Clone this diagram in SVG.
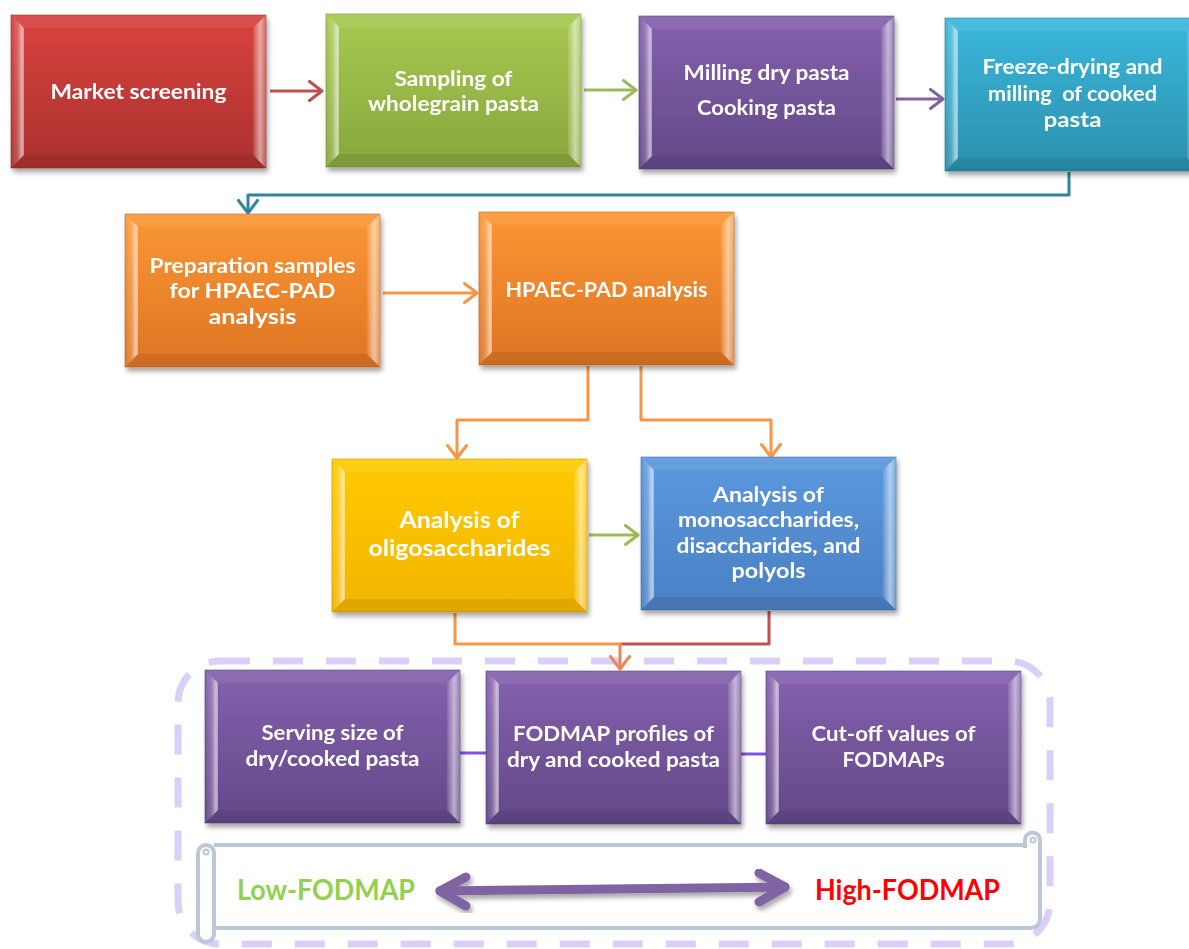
<svg xmlns="http://www.w3.org/2000/svg" xmlns:xlink="http://www.w3.org/1999/xlink" width="1189" height="949" viewBox="0 0 1189 949">
  <style>
    .t { font-family: Lato, "Liberation Sans", "DejaVu Sans", sans-serif; font-weight: 700; font-size: 21px; fill: #ffffff; text-anchor: middle; }
    .big { font-size: 23px; }
    .edge { stroke-width: 1; stroke-opacity: 0.55; }
    .legend { font-family: Lato, "Liberation Sans", "DejaVu Sans", sans-serif; font-weight: 700; font-size: 28px; }
  </style>
  <defs>
    <filter id="shadow" x="-10%" y="-10%" width="125%" height="130%">
      <feGaussianBlur in="SourceAlpha" stdDeviation="2.5"/>
      <feOffset dx="2" dy="4" result="off"/>
      <feComponentTransfer><feFuncA type="linear" slope="0.35"/></feComponentTransfer>
      <feMerge><feMergeNode/><feMergeNode in="SourceGraphic"/></feMerge>
    </filter>

    <!-- face fills -->
    <linearGradient id="gRed" x1="0" y1="0" x2="0" y2="1"><stop offset="0" stop-color="#D8423F"/><stop offset="1" stop-color="#AB312E"/></linearGradient>
    <linearGradient id="gGreen" x1="0" y1="0" x2="0" y2="1"><stop offset="0" stop-color="#A8C952"/><stop offset="1" stop-color="#87A63C"/></linearGradient>
    <linearGradient id="gPurple" x1="0" y1="0" x2="0" y2="1"><stop offset="0" stop-color="#8461AD"/><stop offset="1" stop-color="#634888"/></linearGradient>
    <linearGradient id="gCyan" x1="0" y1="0" x2="0" y2="1"><stop offset="0" stop-color="#3AB8DC"/><stop offset="1" stop-color="#2B8FAD"/></linearGradient>
    <linearGradient id="gOrange" x1="0" y1="0" x2="0" y2="1"><stop offset="0" stop-color="#FB9735"/><stop offset="1" stop-color="#DE7423"/></linearGradient>
    <linearGradient id="gGold" x1="0" y1="0" x2="0" y2="1"><stop offset="0" stop-color="#FFCA00"/><stop offset="1" stop-color="#F2B500"/></linearGradient>
    <linearGradient id="gBlue" x1="0" y1="0" x2="0" y2="1"><stop offset="0" stop-color="#5B98DE"/><stop offset="1" stop-color="#4B80C4"/></linearGradient>

    <!-- bevel lighting -->
    <linearGradient id="bevL" x1="0" y1="0" x2="1" y2="0">
      <stop offset="0" stop-color="#fff" stop-opacity="0.02"/>
      <stop offset="0.5" stop-color="#fff" stop-opacity="0.2"/>
      <stop offset="0.85" stop-color="#fff" stop-opacity="0.6"/>
      <stop offset="1" stop-color="#fff" stop-opacity="0.4"/>
    </linearGradient>
    <linearGradient id="bevR" x1="0" y1="0" x2="1" y2="0">
      <stop offset="0" stop-color="#fff" stop-opacity="0.1"/>
      <stop offset="0.55" stop-color="#fff" stop-opacity="0.55"/>
      <stop offset="1" stop-color="#fff" stop-opacity="0.2"/>
    </linearGradient>
    <g id="bevel">
      <polygon points="0,0 255,0 242,13 13,13" fill="#fff" fill-opacity="0.08"/>
      <polygon points="0,153 13,140 242,140 255,153" fill="#000" fill-opacity="0.08"/>
      <polygon points="0,0 13,13 13,140 0,153" fill="url(#bevL)"/>
      <polygon points="255,0 242,13 242,140 255,153" fill="url(#bevR)"/>
    </g>

    <!-- open chevron heads -->
    <marker id="aRed" viewBox="0 0 16 22" refX="14" refY="11" markerWidth="16" markerHeight="22" markerUnits="userSpaceOnUse" orient="auto">
      <path d="M1.5,1.5 L14,11 L1.5,20.5" fill="none" stroke="#C0504D" stroke-width="3" stroke-linecap="round" stroke-linejoin="round"/>
    </marker>
    <marker id="aGreen" viewBox="0 0 16 22" refX="14" refY="11" markerWidth="16" markerHeight="22" markerUnits="userSpaceOnUse" orient="auto">
      <path d="M1.5,1.5 L14,11 L1.5,20.5" fill="none" stroke="#9BBB59" stroke-width="3" stroke-linecap="round" stroke-linejoin="round"/>
    </marker>
    <marker id="aPurple" viewBox="0 0 16 22" refX="14" refY="11" markerWidth="16" markerHeight="22" markerUnits="userSpaceOnUse" orient="auto">
      <path d="M1.5,1.5 L14,11 L1.5,20.5" fill="none" stroke="#8064A2" stroke-width="3" stroke-linecap="round" stroke-linejoin="round"/>
    </marker>
    <marker id="aTeal" viewBox="0 0 16 22" refX="14" refY="11" markerWidth="16" markerHeight="22" markerUnits="userSpaceOnUse" orient="auto">
      <path d="M1.5,1.5 L14,11 L1.5,20.5" fill="none" stroke="#31859C" stroke-width="3" stroke-linecap="round" stroke-linejoin="round"/>
    </marker>
    <marker id="aOrange" viewBox="0 0 16 22" refX="14" refY="11" markerWidth="16" markerHeight="22" markerUnits="userSpaceOnUse" orient="auto">
      <path d="M1.5,1.5 L14,11 L1.5,20.5" fill="none" stroke="#F79646" stroke-width="3" stroke-linecap="round" stroke-linejoin="round"/>
    </marker>
    <marker id="aMix" viewBox="0 0 16 22" refX="14" refY="11" markerWidth="16" markerHeight="22" markerUnits="userSpaceOnUse" orient="auto">
      <path d="M1.5,1.5 L14,11 L1.5,20.5" fill="none" stroke="#EC8556" stroke-width="3" stroke-linecap="round" stroke-linejoin="round"/>
    </marker>
  </defs>

  <rect width="1189" height="949" fill="#ffffff"/>

  <!-- dashed frame around the FODMAP evaluation -->
  <g id="frame">
    <rect x="178" y="661" width="872" height="283" rx="42" fill="none" stroke="#DBCFF9" stroke-width="7" stroke-dasharray="30 23"/>
  </g>

  <!-- scroll banner -->
  <g id="scroll" fill="#ffffff" stroke="#BAC8D8" stroke-width="4" stroke-linejoin="round">
    <path d="M214,845 H1026 M1040,840 V918 Q1040,928 1030,928 H214"/>
    <path d="M1025,848 V840 A7.5,7.5 0 0 1 1040,840" fill="none"/>
    <circle cx="1033" cy="840" r="2.5" fill="none" stroke-width="2"/>
    <rect x="198" y="845" width="16" height="97" rx="8"/>
    <circle cx="206" cy="852" r="2.5" fill="none" stroke-width="2"/>
  </g>

  <!-- connectors -->
  <g id="connectors" fill="none" stroke-width="3" stroke-linejoin="round">
    <path d="M270,91 H322" stroke="#C0504D" marker-end="url(#aRed)"/>
    <path d="M584,90 H636" stroke="#9BBB59" marker-end="url(#aGreen)"/>
    <path d="M896,99 H943" stroke="#8064A2" marker-end="url(#aPurple)"/>
    <path d="M1069,172 V195 H248 V213" stroke="#31859C" marker-end="url(#aTeal)"/>
    <path d="M383,293 H477" stroke="#F79646" marker-end="url(#aOrange)"/>
    <path d="M588,366 V420 H457 V458" stroke="#F79646" marker-end="url(#aOrange)"/>
    <path d="M641,366 V420 H771 V457" stroke="#F79646" marker-end="url(#aOrange)"/>
    <path d="M589,535 H638" stroke="#9BBB59" marker-end="url(#aGreen)"/>
    <path d="M769,611 V644 H620" stroke="#C0504D"/>
    <path d="M455,613 V644 H622" stroke="#F79646"/>
    <path d="M620,644 V669" stroke="#EC8556" marker-end="url(#aMix)"/>
    <path d="M459,753 H488" stroke="#8050E6"/>
    <path d="M740,754 H768" stroke="#8050E6"/>
  </g>

  <!-- process steps -->
  <g id="n-market" transform="translate(11,15)" filter="url(#shadow)">
    <rect width="255" height="153" fill="url(#gRed)" class="edge" stroke="#8E2725"/>
    <use href="#bevel"/>
    <text class="t" x="127.5" y="84" textLength="176" lengthAdjust="spacingAndGlyphs">Market screening</text>
  </g>

  <g id="n-sampling" transform="translate(326,14)" filter="url(#shadow)">
    <rect width="255" height="153" fill="url(#gGreen)" class="edge" stroke="#6E8A2E"/>
    <use href="#bevel"/>
    <text class="t" x="127.5" y="72" textLength="118" lengthAdjust="spacingAndGlyphs">Sampling of</text>
    <text class="t" x="127.5" y="97" textLength="171" lengthAdjust="spacingAndGlyphs">wholegrain pasta</text>
  </g>

  <g id="n-milling" transform="translate(639,16)" filter="url(#shadow)">
    <rect width="255" height="153" fill="url(#gPurple)" class="edge" stroke="#4F3870"/>
    <use href="#bevel"/>
    <text class="t" x="127.5" y="64" textLength="166" lengthAdjust="spacingAndGlyphs">Milling dry pasta</text>
    <text class="t" x="127.5" y="99" textLength="139" lengthAdjust="spacingAndGlyphs">Cooking pasta</text>
  </g>

  <g id="n-freeze" transform="translate(945,18)" filter="url(#shadow)">
    <rect width="255" height="153" fill="url(#gCyan)" class="edge" stroke="#217188"/>
    <use href="#bevel"/>
    <text class="t" x="127.5" y="56" textLength="180" lengthAdjust="spacingAndGlyphs">Freeze-drying and</text>
    <text class="t" x="127.5" y="83" textLength="169" lengthAdjust="spacingAndGlyphs" xml:space="preserve">milling  of cooked</text>
    <text class="t" x="127.5" y="109" textLength="58" lengthAdjust="spacingAndGlyphs">pasta</text>
  </g>

  <g id="n-preparation" transform="translate(125,214)" filter="url(#shadow)">
    <rect width="255" height="153" fill="url(#gOrange)" class="edge" stroke="#B85F1C"/>
    <use href="#bevel"/>
    <text class="t" x="127.5" y="59" textLength="206" lengthAdjust="spacingAndGlyphs">Preparation samples</text>
    <text class="t" x="127.5" y="84" textLength="166" lengthAdjust="spacingAndGlyphs">for HPAEC-PAD</text>
    <text class="t" x="127.5" y="110" textLength="88" lengthAdjust="spacingAndGlyphs">analysis</text>
  </g>

  <g id="n-hpaec" transform="translate(479,212)" filter="url(#shadow)">
    <rect width="255" height="153" fill="url(#gOrange)" class="edge" stroke="#B85F1C"/>
    <use href="#bevel"/>
    <text class="t" x="127.5" y="85" textLength="202" lengthAdjust="spacingAndGlyphs">HPAEC-PAD analysis</text>
  </g>

  <g id="n-oligo" transform="translate(332,459)" filter="url(#shadow)">
    <rect width="255" height="153" fill="url(#gGold)" class="edge" stroke="#B98C00"/>
    <use href="#bevel"/>
    <text class="t big" x="127.5" y="69" textLength="120" lengthAdjust="spacingAndGlyphs">Analysis of</text>
    <text class="t big" x="127.5" y="97" textLength="182" lengthAdjust="spacingAndGlyphs">oligosaccharides</text>
  </g>

  <g id="n-mono" transform="translate(641,457)" filter="url(#shadow)">
    <rect width="255" height="153" fill="url(#gBlue)" class="edge" stroke="#3A659E"/>
    <use href="#bevel"/>
    <text class="t" x="127.5" y="45" textLength="111" lengthAdjust="spacingAndGlyphs">Analysis of</text>
    <text class="t" x="127.5" y="70" textLength="181" lengthAdjust="spacingAndGlyphs">monosaccharides,</text>
    <text class="t" x="127.5" y="96" textLength="184" lengthAdjust="spacingAndGlyphs">disaccharides, and</text>
    <text class="t" x="127.5" y="121" textLength="74" lengthAdjust="spacingAndGlyphs">polyols</text>
  </g>

  <g id="n-serving" transform="translate(205,670)" filter="url(#shadow)">
    <rect width="255" height="153" fill="url(#gPurple)" class="edge" stroke="#4F3870"/>
    <use href="#bevel"/>
    <text class="t" x="127.5" y="70" textLength="142" lengthAdjust="spacingAndGlyphs">Serving size of</text>
    <text class="t" x="127.5" y="96" textLength="174" lengthAdjust="spacingAndGlyphs">dry/cooked pasta</text>
  </g>

  <g id="n-profiles" transform="translate(486,671)" filter="url(#shadow)">
    <rect width="255" height="153" fill="url(#gPurple)" class="edge" stroke="#4F3870"/>
    <use href="#bevel"/>
    <text class="t" x="127.5" y="70" textLength="201" lengthAdjust="spacingAndGlyphs">FODMAP profiles of</text>
    <text class="t" x="127.5" y="96" textLength="213" lengthAdjust="spacingAndGlyphs">dry and cooked pasta</text>
  </g>

  <g id="n-cutoff" transform="translate(766,671)" filter="url(#shadow)">
    <rect width="255" height="153" fill="url(#gPurple)" class="edge" stroke="#4F3870"/>
    <use href="#bevel"/>
    <text class="t" x="127.5" y="70" textLength="164" lengthAdjust="spacingAndGlyphs">Cut-off values of</text>
    <text class="t" x="127.5" y="96" textLength="102" lengthAdjust="spacingAndGlyphs">FODMAPs</text>
  </g>

  <!-- low / high scale -->
  <g id="scale">
    <text class="legend" x="237" y="900" fill="#92D050" textLength="178" lengthAdjust="spacingAndGlyphs">Low-FODMAP</text>
    <text class="legend" x="815" y="900" fill="#FF0000" textLength="185" lengthAdjust="spacingAndGlyphs">High-FODMAP</text>
    <g fill="none" stroke="#8064A2" stroke-width="9" stroke-linecap="round" stroke-linejoin="round" filter="url(#shadow)">
      <path d="M440,891 L785,887"/>
      <path d="M466,877 L440,891 L466,906"/>
      <path d="M759,873 L785,887 L759,902"/>
    </g>
  </g>
</svg>
